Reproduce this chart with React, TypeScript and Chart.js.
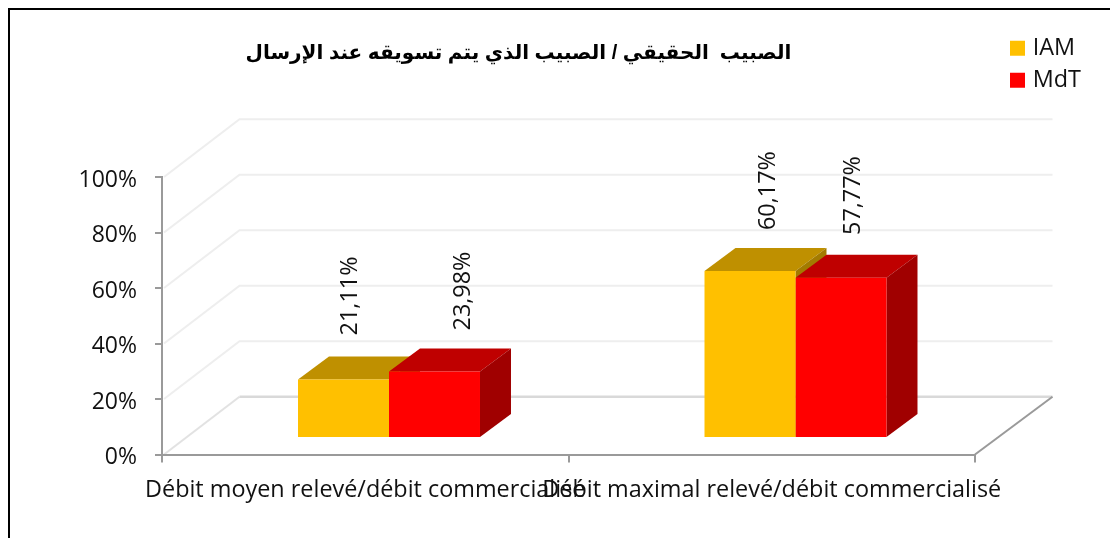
import React, { useEffect, useRef } from "react";
import { Chart, registerables } from "chart.js";

Chart.register(...registerables);

const categories = ["Débit moyen relevé/débit commercialisé", "Débit maximal relevé/débit commercialisé"];
const iamValues = [21.11, 60.17];
const mdtValues = [23.98, 57.77];
const yTicks = [0, 20, 40, 60, 80, 100];
const titleText = "الصبيب  الحقيقي / الصبيب الذي يتم تسويقه عند الإرسال";

const FONT = "'Open Sans'";
const FONT_SIZE = 23.4;
const GRAY = "#9a9a9a";

// perspective of the fake 3D box
const WALL = { dx: 77.5, dy: -57.8 };
const BAR_SHIFT = { dx: 23.75, dy: -16.5 };
const BAR_DEPTH = { dx: 31, dy: -23 };
// hand placed label offsets in the reference: [series][category]
const labelDx = [[7, 18], [29, 12]];
const labelGap = [[44, 41], [41, 42.7]];

const faces = [
  { top: "#BF9000", side: "#A37B00" },
  { top: "#BF0000", side: "#A00000" },
];

const box3d = {
  id: "box3d",
  afterLayout(chart: any) {
    const t = chart.titleBlock;
    t.left = 0;
    t.right = 1037;
    const l = chart.legend;
    l.left = 1014 - l.options.labels.padding;
    l.top = 28;
    l.right = 1110;
    l.bottom = 120;
    l.width = l.right - l.left;
    l.height = l.bottom - l.top;
  },
  beforeDraw(chart: any) {
    const { ctx, scales } = chart;
    const y = scales.y;
    const x = scales.x;
    ctx.save();
    ctx.fillStyle = "#fff";
    ctx.fillRect(0, 0, chart.width, chart.height);
    // page frame
    ctx.fillStyle = "#000";
    ctx.fillRect(8, 8, 2, chart.height - 8);
    ctx.fillRect(8, 8, chart.width - 8, 2);
    // walls
    const left = x.left;
    const right = x.right;
    const px0 = y.getPixelForValue(0);
    ctx.lineWidth = 2;
    for (const v of yTicks) {
      if (v === 0) continue;
      const p = y.getPixelForValue(v);
      ctx.strokeStyle = "#eeeeee";
      ctx.beginPath();
      ctx.moveTo(left + 2, p);
      ctx.lineTo(left + WALL.dx, p + WALL.dy);
      ctx.lineTo(right + WALL.dx, p + WALL.dy);
      ctx.stroke();
    }
    // floor
    ctx.strokeStyle = "#e2e2e2";
    ctx.beginPath();
    ctx.moveTo(left + 2, px0);
    ctx.lineTo(left + WALL.dx, px0 + WALL.dy);
    ctx.stroke();
    ctx.strokeStyle = "#d9d9d9";
    ctx.lineWidth = 2.5;
    ctx.beginPath();
    ctx.moveTo(left + WALL.dx, px0 + WALL.dy);
    ctx.lineTo(right + WALL.dx, px0 + WALL.dy);
    ctx.stroke();
    ctx.strokeStyle = GRAY;
    ctx.lineWidth = 2;
    ctx.beginPath();
    ctx.moveTo(right, px0);
    ctx.lineTo(right + WALL.dx, px0 + WALL.dy);
    ctx.stroke();
    ctx.restore();
  },
  // back faces first, in series order: each series' front then covers the previous side face
  beforeDatasetsDraw(chart: any) {
    const { ctx } = chart;
    ctx.save();
    ctx.translate(BAR_SHIFT.dx, BAR_SHIFT.dy);
    chart.data.datasets.forEach((_: any, i: number) => {
      const f = faces[i];
      for (const el of chart.getDatasetMeta(i).data) {
        const p = el.getProps(["x", "y", "base", "width"], true);
        const l = p.x - p.width / 2;
        const r = p.x + p.width / 2;
        ctx.fillStyle = f.top;
        ctx.beginPath();
        ctx.moveTo(l, p.y);
        ctx.lineTo(l + BAR_DEPTH.dx, p.y + BAR_DEPTH.dy);
        ctx.lineTo(r + BAR_DEPTH.dx, p.y + BAR_DEPTH.dy);
        ctx.lineTo(r, p.y);
        ctx.closePath();
        ctx.fill();
        ctx.fillStyle = f.side;
        ctx.beginPath();
        ctx.moveTo(r, p.y);
        ctx.lineTo(r + BAR_DEPTH.dx, p.y + BAR_DEPTH.dy);
        ctx.lineTo(r + BAR_DEPTH.dx, p.base + BAR_DEPTH.dy);
        ctx.lineTo(r, p.base);
        ctx.closePath();
        ctx.fill();
      }
    });
    ctx.restore();
  },
  beforeDatasetDraw(chart: any) {
    chart.ctx.save();
    chart.ctx.translate(BAR_SHIFT.dx, BAR_SHIFT.dy);
  },
  afterDatasetDraw(chart: any) {
    chart.ctx.restore();
  },
  afterDatasetsDraw(chart: any) {
    const { ctx } = chart;
    ctx.save();
    ctx.fillStyle = "#111";
    ctx.font = `${FONT_SIZE}px ${FONT}`;
    ctx.textAlign = "left";
    ctx.textBaseline = "middle";
    chart.data.datasets.forEach((ds: any, i: number) => {
      chart.getDatasetMeta(i).data.forEach((el: any, j: number) => {
        const p = el.getProps(["x", "y"], true);
        const frontTop = p.y + BAR_SHIFT.dy;
        ctx.save();
        ctx.translate(p.x + BAR_SHIFT.dx + labelDx[i][j], frontTop - labelGap[i][j]);
        ctx.rotate(-Math.PI / 2);
        ctx.fillText(ds.data[j].toFixed(2).replace(".", ",") + "%", 0, 0);
        ctx.restore();
      });
    });
    ctx.restore();
  },
};

export default function App() {
  const ref = useRef<HTMLCanvasElement>(null);
  useEffect(() => {
    const chart = new Chart(ref.current as HTMLCanvasElement, {
      type: "bar",
      data: {
        labels: categories,
        datasets: [
          { label: "IAM", data: iamValues, backgroundColor: "#FFC000" },
          { label: "MdT", data: mdtValues, backgroundColor: "#FF0000" },
        ],
      },
      plugins: [box3d],
      options: {
        responsive: false,
        animation: false,
        layout: { padding: { left: 0, right: 135, top: 0, bottom: 0 } },
        datasets: { bar: { categoryPercentage: 0.4477, barPercentage: 1, clip: false } },
        plugins: {
          tooltip: { enabled: false },
          title: {
            display: true,
            text: titleText,
            color: "#000",
            font: { family: "'Liberation Sans', 'DejaVu Sans'", size: 20, weight: "bold", lineHeight: 1.2 },
            padding: { top: 41, bottom: 112 },
          },
          legend: {
            display: true,
            position: "chartArea",
            align: "start",
            labels: {
              color: "#111",
              font: { family: FONT, size: FONT_SIZE, lineHeight: 1.2 },
              boxWidth: 7,
              boxHeight: 7,
              padding: 8.6,
              generateLabels: (c: any) =>
                (Chart.defaults.plugins.legend.labels as any)
                  .generateLabels(c)
                  .map((it: any) => ({ ...it, lineWidth: 8, strokeStyle: it.fillStyle })),
            },
          },
        },
        scales: {
          x: {
            type: "category",
            offset: true,
            afterFit: (s: any) => { s.height = 83.5; },
            border: { color: GRAY, width: 2 },
            grid: { offset: true, drawOnChartArea: false, drawTicks: true, tickLength: 8, color: GRAY, lineWidth: 2 },
            ticks: {
              autoSkip: false,
              maxRotation: 0,
              minRotation: 0,
              padding: 14,
              color: "#111",
              font: { family: FONT, size: FONT_SIZE, lineHeight: 1.2 },
            },
          },
          y: {
            min: 0,
            max: 100,
            afterFit: (s: any) => { s.width = 162; },
            border: { color: GRAY, width: 2 },
            grid: { drawOnChartArea: false, drawTicks: true, tickLength: 7, color: GRAY, lineWidth: 2 },
            afterBuildTicks: (s: any) => { s.ticks = yTicks.map((v) => ({ value: v })); },
            ticks: {
              padding: 18,
              labelOffset: 3,
              color: "#111",
              font: { family: FONT, size: 23, lineHeight: 1.2 },
              callback: (v: any) => `${v}%`,
            },
          },
        },
      },
    } as any);
    return () => chart.destroy();
  }, []);
  return (
    <div style={{ position: "absolute", left: 0, top: 0, width: 1110, height: 538, overflow: "hidden" }}>
      <canvas ref={ref} width={1110} height={538} style={{ display: "block" }} />
    </div>
  );
}
